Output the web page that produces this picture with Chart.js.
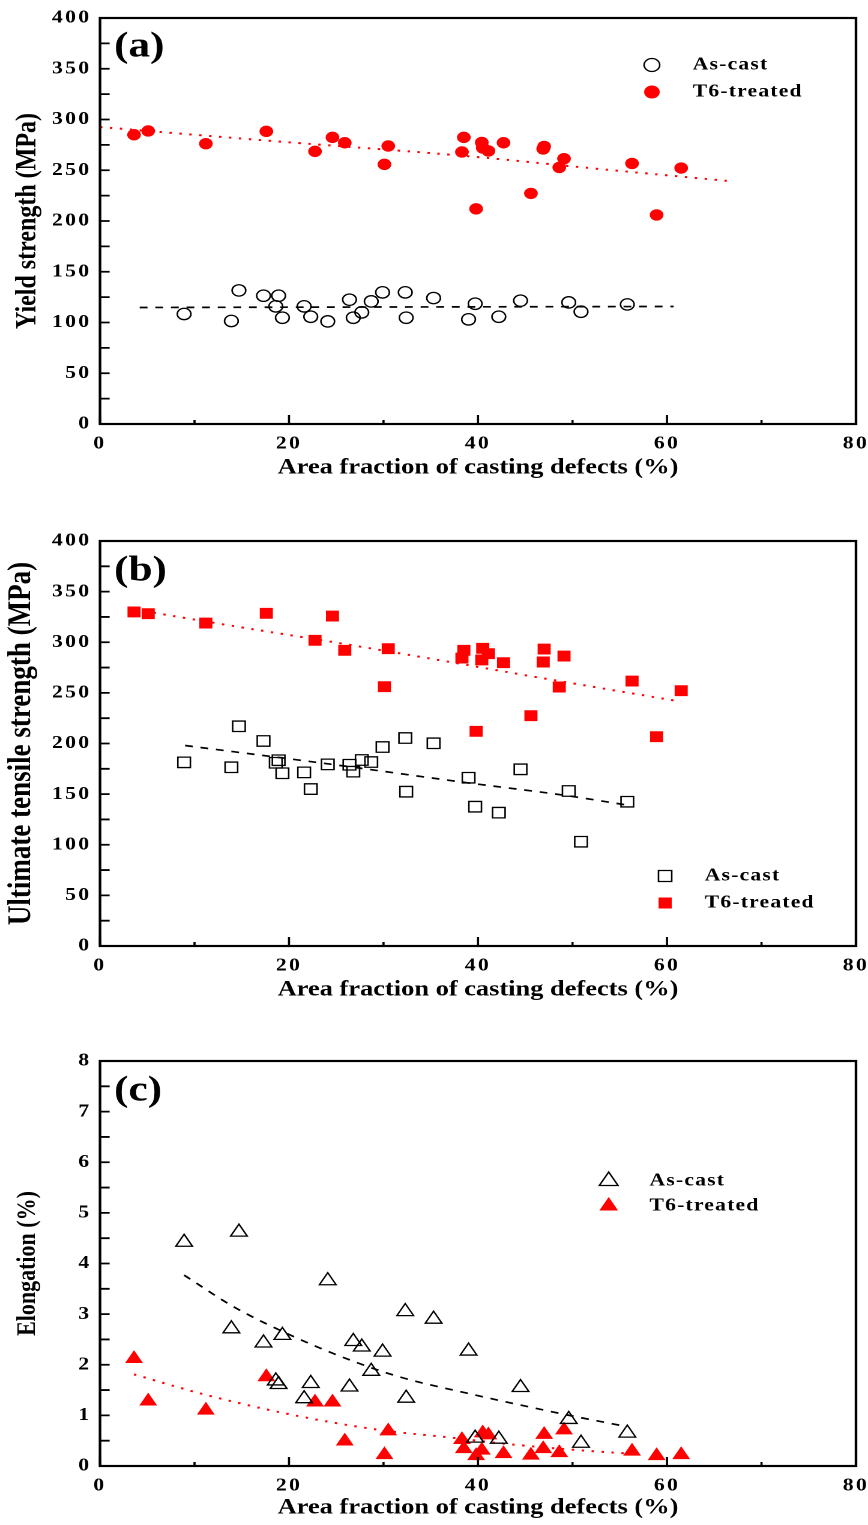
<!DOCTYPE html>
<html>
<head>
<meta charset="utf-8">
<script src="https://cdn.jsdelivr.net/npm/chart.js@4.4.1/dist/chart.umd.min.js"></script>
<style>
  html, body { margin: 0; padding: 0; background: #fff; }
  body { position: relative; width: 868px; height: 1525px; overflow: hidden; }
  canvas { position: absolute; left: 0; }
</style>
</head>
<body>
<!-- the original figure is stretched horizontally, so each chart is drawn 723 wide and shown 868 wide -->
<canvas id="chartA" width="723" height="510" style="top:0px;width:868px;height:510px"></canvas>
<canvas id="chartB" width="723" height="520" style="top:510px;width:868px;height:520px"></canvas>
<canvas id="chartC" width="723" height="495" style="top:1030px;width:868px;height:495px"></canvas>
<script>
// ---- data ----
const seriesNames = ['As-cast', 'T6-treated'];

// area fraction of casting defects (%), one value per sample
const defectAsCast = [8.9, 13.9, 14.7, 17.3, 18.6, 18.9, 19.3, 21.6, 22.3, 24.1, 26.4, 26.8, 27.7,
  28.7, 29.9, 32.3, 32.4, 35.3, 39.0, 39.7, 42.2, 44.5, 49.6, 50.9, 55.8];
const defectT6 = [3.6, 5.1, 11.2, 17.6, 22.75, 24.6, 25.9, 30.1, 30.5, 38.3, 38.5, 39.8, 40.4,
  40.5, 41.1, 42.7, 45.6, 46.9, 47.0, 48.6, 49.1, 56.3, 58.9, 61.5];

// (a) yield strength, MPa
const ysAsCast = [108.4, 101.5, 131.6, 126.4, 115.9, 126.4, 104.7, 115.9, 105.7, 101.1, 122.5, 104.7, 110,
  120.8, 129.7, 129.7, 104.7, 124.1, 103.1, 118.5, 105.7, 121.5, 119.8, 110.6, 117.8];
const ysT6 = [285, 288.7, 276.2, 288.3, 268.6, 282.4, 277.1, 255.8, 273.9, 268, 282.4, 212, 277.4,
  272, 269, 277.1, 227.2, 271, 273.5, 252.8, 261.4, 256.7, 206, 252.2];

// (b) ultimate tensile strength, MPa
const utsAsCast = [181.4, 176.5, 217, 202.5, 181, 183.5, 170.6, 171.5, 155, 179.4, 179, 172.2, 183.7,
  181.7, 196.5, 205.4, 152.4, 200.2, 166.2, 137.6, 131.7, 174.5, 153.1, 103, 142.5];
const utsT6 = [329.9, 328.2, 319, 328.6, 301.9, 325.9, 292, 256.1, 293.6, 284.4, 292, 212, 282.5,
  294, 288.7, 279.8, 227.5, 280.5, 293.3, 255.8, 286.4, 261.7, 206.7, 252.2];

// (c) elongation, %
const elongAsCast = [4.42, 2.71, 4.62, 2.43, 1.68, 1.61, 2.58, 1.33, 1.63, 3.66, 1.56, 2.46, 2.35,
  1.87, 2.25, 3.05, 1.34, 2.9, 2.27, 0.55, 0.53, 1.55, 0.92, 0.45, 0.65];
const elongT6 = [2.12, 1.28, 1.10, 1.76, 1.26, 1.26, 0.49, 0.22, 0.69, 0.52, 0.34, 0.2, 0.31,
  0.65, 0.61, 0.24, 0.21, 0.34, 0.62, 0.26, 0.71, 0.29, 0.2, 0.22];

// trend lines, points read along each drawn fit
const ysFitAsCastX = [4.2, 60.7];
const ysFitAsCastY = [114.8, 115.8];
const ysFitT6X = [0, 17.4, 39.2, 52.9, 67];
const ysFitT6Y = [292.6, 279.4, 263.6, 251.2, 239];
const utsFitAsCastX = [9, 24.2, 38.8, 49.4, 55.7];
const utsFitAsCastY = [198, 179.8, 161.3, 148.5, 139.3];
const utsFitT6X = [3.6, 13, 25.4, 35.8, 45.9, 61.5];
const utsFitT6Y = [332.5, 317.7, 299, 282.5, 266, 241.3];
const elFitAsCastX = [8.9, 14.1, 20.1, 26.5, 31.7, 38.8, 49.4, 55.7];
const elFitAsCastY = [3.77, 3.15, 2.59, 2.09, 1.76, 1.44, 1.01, 0.78];
const elFitT6X = [3.6, 10.9, 20.1, 29.3, 37.7, 42.3, 50.1, 56.4];
const elFitT6Y = [1.81, 1.42, 1.02, 0.72, 0.55, 0.45, 0.32, 0.24];

// tick labels (the other ticks are unlabelled minor ticks)
const xTickLabels = [0, 20, 40, 60, 80];
const strengthTickLabels = [0, 50, 100, 150, 200, 250, 300, 350, 400];
const elongTickLabels = [0, 1, 2, 3, 4, 5, 6, 7, 8];

// ---- drawing ----
const FAMILY = "'Liberation Serif', 'Times New Roman', serif";
const RED = '#ff0000';
Chart.defaults.font.family = FAMILY;
Chart.defaults.font.weight = 'bold';
Chart.defaults.color = '#000';

const pts = (xs, ys) => xs.map((x, i) => ({ x: x, y: ys[i] }));

function pointSet(label, xs, ys, style, filled, radius) {
  return {
    label: label,
    data: pts(xs, ys),
    showLine: false,
    pointStyle: style,
    pointRadius: radius,
    pointHoverRadius: radius,
    pointBackgroundColor: filled ? RED : 'rgba(0,0,0,0)',
    pointBorderColor: filled ? RED : '#000',
    pointBorderWidth: filled ? 1 : 1.3
  };
}

function fitSet(xs, ys, color, dash, width) {
  return {
    label: 'fit',
    data: pts(xs, ys),
    showLine: true,
    pointRadius: 0,
    pointHoverRadius: 0,
    borderColor: color,
    borderWidth: width,
    borderDash: dash,
    fill: false,
    cubicInterpolationMode: 'monotone'
  };
}

function drawMarker(ctx, shape, x, y, r, filled) {
  ctx.beginPath();
  if (shape === 'circle') {
    ctx.arc(x, y, r, 0, Math.PI * 2);
  } else if (shape === 'rect') {
    const s = r * Math.SQRT1_2;
    ctx.rect(x - s, y - s, 2 * s, 2 * s);
  } else {
    let a = 0;
    ctx.moveTo(x + Math.sin(a) * r, y - Math.cos(a) * r);
    a += 2 * Math.PI / 3;
    ctx.lineTo(x + Math.sin(a) * r, y - Math.cos(a) * r);
    a += 2 * Math.PI / 3;
    ctx.lineTo(x + Math.sin(a) * r, y - Math.cos(a) * r);
    ctx.closePath();
  }
  if (filled) {
    ctx.fillStyle = RED;
    ctx.fill();
  } else {
    ctx.lineWidth = 1.3;
    ctx.strokeStyle = '#000';
    ctx.stroke();
  }
}

// frame, inward ticks, panel letter and legend
const framePlugin = {
  id: 'frame',
  beforeDraw(chart) {
    chart.ctx.letterSpacing = '0px';
  },
  afterDatasetsDraw(chart) {
    // tick labels (ticks.z = 1) are drawn after this with spaced digits
    chart.ctx.letterSpacing = '2px';
  },
  afterDraw(chart, args, opts) {
    const ctx = chart.ctx;
    const { left, top, right, bottom } = chart.chartArea;
    ctx.save();
    ctx.letterSpacing = '0px';
    ctx.strokeStyle = '#000';
    ctx.lineWidth = 1.8;
    ctx.beginPath();
    const xs = chart.scales.x;
    xs.ticks.forEach(t => {
      const px = xs.getPixelForValue(t.value);
      const len = t.label !== '' ? 9 : 4;
      ctx.moveTo(px, bottom);
      ctx.lineTo(px, bottom - len);
    });
    const ys = chart.scales.y;
    ys.ticks.forEach(t => {
      const py = ys.getPixelForValue(t.value);
      ctx.moveTo(left, py);
      ctx.lineTo(left + 8, py);
    });
    ctx.stroke();
    ctx.lineWidth = 2.2;
    ctx.strokeRect(left, top, right - left, bottom - top);

    ctx.fillStyle = '#000';
    ctx.textBaseline = 'middle';
    ctx.textAlign = 'left';
    ctx.font = 'bold 36px ' + FAMILY;
    ctx.fillText(opts.letter, opts.letterX, opts.letterY);

    const lg = opts.legend;
    ctx.font = 'bold 18px ' + FAMILY;
    ctx.letterSpacing = '1px';
    seriesNames.forEach((name, i) => {
      const y = lg.y + i * lg.dy;
      drawMarker(ctx, lg.shape, lg.x, y, lg.r, i === 1);
      ctx.fillStyle = '#000';
      ctx.fillText(name, lg.textX, y);
    });
    ctx.restore();
    ctx.letterSpacing = '0px';
  }
};

function makeChart(id, p) {
  return new Chart(document.getElementById(id), {
    type: 'scatter',
    data: {
      datasets: [
        pointSet(seriesNames[0], p.xAsCast, p.yAsCast, p.shape, false, p.radius),
        pointSet(seriesNames[1], p.xT6, p.yT6, p.shape, true, p.radiusFilled),
        fitSet(p.fitAsCast[0], p.fitAsCast[1], '#000', [6.5, 6.5], 1.7),
        fitSet(p.fitT6[0], p.fitT6[1], RED, [2, 6.3], 2)
      ]
    },
    options: {
      responsive: false,
      devicePixelRatio: 2,
      animation: false,
      events: [],
      layout: { padding: { top: p.top, right: 10, left: 0, bottom: 0 } },
      plugins: {
        legend: { display: false },
        tooltip: { enabled: false },
        frame: { letter: p.letter, letterX: 95, letterY: p.letterY, legend: p.legend }
      },
      scales: {
        x: {
          type: 'linear',
          min: 0,
          max: 80,
          grid: { display: false, drawTicks: false },
          border: { display: false },
          ticks: {
            stepSize: 10,
            autoSkip: false,
            maxRotation: 0,
            padding: 9,
            z: 1,
            font: { size: 18, weight: 'bold' },
            callback: v => xTickLabels.includes(v) ? String(v) : ''
          },
          title: {
            display: true,
            text: 'Area fraction of casting defects (%)',
            font: { size: 22, weight: 'bold' },
            padding: { top: 0, bottom: p.xTitlePad }
          },
          afterFit: s => { s.height = p.xScaleH; s.paddingLeft = 0; s.paddingRight = 0; }
        },
        y: {
          type: 'linear',
          min: 0,
          max: p.yMax,
          grid: { display: false, drawTicks: false },
          border: { display: false },
          ticks: {
            stepSize: p.yStep,
            maxTicksLimit: 100,
            autoSkip: false,
            padding: 7,
            z: 1,
            font: { size: 18, weight: 'bold' },
            callback: v => p.yLabels.includes(v) ? String(v) : ''
          },
          title: {
            display: true,
            text: p.yTitle,
            font: { size: p.yTitleSize, weight: 'bold' },
            padding: { top: p.yTitlePad, bottom: 0 }
          },
          afterFit: s => { s.width = 83.3; }
        }
      }
    },
    plugins: [framePlugin]
  });
}

makeChart('chartA', {
  xAsCast: defectAsCast, yAsCast: ysAsCast, xT6: defectT6, yT6: ysT6,
  fitAsCast: [ysFitAsCastX, ysFitAsCastY], fitT6: [ysFitT6X, ysFitT6Y],
  shape: 'circle', radius: 5.7, radiusFilled: 5.2,
  top: 18, xScaleH: 86, xTitlePad: 29,
  yMax: 400, yStep: 25, yLabels: strengthTickLabels,
  yTitle: 'Yield strength (MPa)', yTitleSize: 24, yTitlePad: 9,
  letter: '(a)', letterY: 47,
  legend: { shape: 'circle', r: 6.5, x: 543, y: 65, dy: 27, textX: 577 }
});

makeChart('chartB', {
  xAsCast: defectAsCast, yAsCast: utsAsCast, xT6: defectT6, yT6: utsT6,
  fitAsCast: [utsFitAsCastX, utsFitAsCastY], fitT6: [utsFitT6X, utsFitT6Y],
  shape: 'rect', radius: 7.4, radiusFilled: 7,
  top: 31, xScaleH: 84, xTitlePad: 27,
  yMax: 400, yStep: 25, yLabels: strengthTickLabels,
  yTitle: 'Ultimate tensile strength (MPa)', yTitleSize: 27, yTitlePad: 2,
  letter: '(b)', letterY: 61,
  legend: { shape: 'rect', r: 7.8, x: 554, y: 366, dy: 27, textX: 587 }
});

makeChart('chartC', {
  xAsCast: defectAsCast, yAsCast: elongAsCast, xT6: defectT6, yT6: elongT6,
  fitAsCast: [elFitAsCastX, elFitAsCastY], fitT6: [elFitT6X, elFitT6Y],
  shape: 'triangle', radius: 8, radiusFilled: 7.6,
  top: 31, xScaleH: 59, xTitlePad: 4,
  yMax: 8, yStep: 0.5, yLabels: elongTickLabels,
  yTitle: 'Elongation (%)', yTitleSize: 22, yTitlePad: 10,
  letter: '(c)', letterY: 61,
  legend: { shape: 'triangle', r: 9, x: 507, y: 151, dy: 25, textX: 541 }
});
</script>
</body>
</html>
